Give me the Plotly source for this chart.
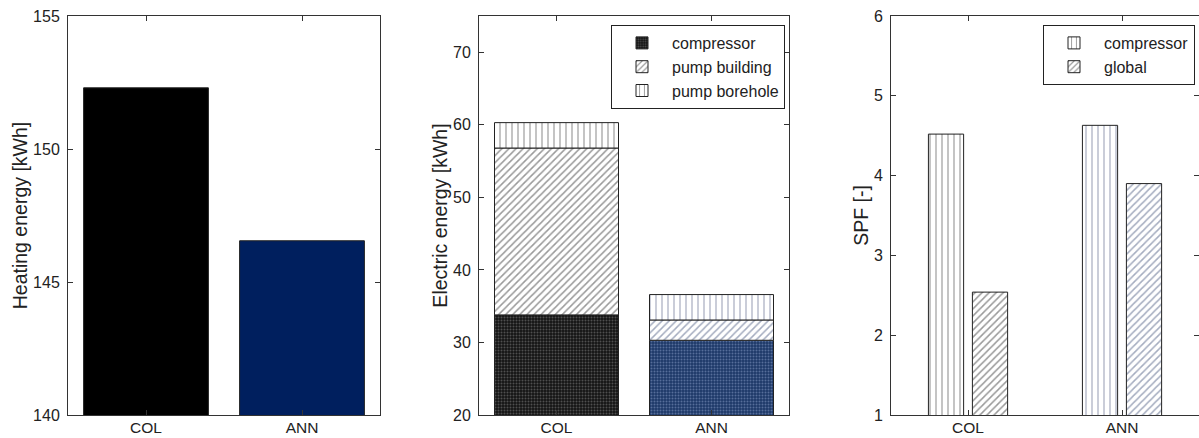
import plotly.graph_objects as go

# ---------------- data ----------------
categories = ["COL", "ANN"]
x_pos = [1, 2]

heating_energy = [152.3, 146.55]          # kWh

elec_compressor = [33.8, 30.3]            # kWh
elec_pump_building = [23.0, 2.8]          # kWh
elec_pump_borehole = [3.5, 3.5]           # kWh

spf_compressor = [4.52, 4.63]
spf_global = [2.54, 3.90]

heating_ticks = [140, 145, 150, 155]
elec_ticks = [20, 30, 40, 50, 60, 70]
spf_ticks = [1, 2, 3, 4, 5, 6]

# ---------------- layout helpers ----------------
W, H = 1199, 438
FONT = "Liberation Sans, Arial, Helvetica, sans-serif"
AX = "#333333"
TXT = "#222222"

base_building = [c for c in elec_compressor]
base_borehole = [c + b for c, b in zip(elec_compressor, elec_pump_building)]

fig = go.Figure()

# Plot 1: heating energy
fig.add_trace(go.Bar(
    x=x_pos, y=heating_energy, width=0.8,
    marker=dict(color=["#000000", "#001f5e"], line=dict(color="#222222", width=1)),
    showlegend=False, xaxis="x", yaxis="y",
))

# Plot 2: electric energy (stacked)
fig.add_trace(go.Bar(
    x=x_pos, y=elec_compressor, width=0.8, name="compressor",
    marker=dict(color="#1a1a1a", line=dict(color="#222222", width=1),
                pattern=dict(shape=".", bgcolor=["#141414", "#1d3868"],
                             fgcolor=["#8a8a8a", "#8fa4cc"], size=3, solidity=0.35)),
    xaxis="x2", yaxis="y2", legend="legend",
))
fig.add_trace(go.Bar(
    x=x_pos, y=elec_pump_building, base=base_building, width=0.8, name="pump building",
    marker=dict(color="white", line=dict(color="#222222", width=1),
                pattern=dict(shape="/", bgcolor="white",
                             fgcolor=["#333333", "#4a5a80"], size=5, solidity=0.3)),
    xaxis="x2", yaxis="y2", legend="legend",
))
fig.add_trace(go.Bar(
    x=x_pos, y=elec_pump_borehole, base=base_borehole, width=0.8, name="pump borehole",
    marker=dict(color="white", line=dict(color="#222222", width=1),
                pattern=dict(shape="|", bgcolor="white",
                             fgcolor=["#222222", "#3a4670"], size=6, solidity=0.18)),
    xaxis="x2", yaxis="y2", legend="legend",
))

# Plot 3: SPF (grouped)
fig.add_trace(go.Bar(
    x=x_pos, y=spf_compressor, width=0.2286, offset=-0.2571, name="compressor",
    marker=dict(color="white", line=dict(color="#222222", width=1),
                pattern=dict(shape="|", bgcolor="white",
                             fgcolor=["#222222", "#3a4670"], size=6, solidity=0.18)),
    xaxis="x3", yaxis="y3", legend="legend2",
))
fig.add_trace(go.Bar(
    x=x_pos, y=spf_global, width=0.2286, offset=0.0286, name="global",
    marker=dict(color="white", line=dict(color="#222222", width=1),
                pattern=dict(shape="/", bgcolor="white",
                             fgcolor=["#333333", "#4a5a80"], size=5, solidity=0.3)),
    xaxis="x3", yaxis="y3", legend="legend2",
))


def xax(domain, anchor):
    return dict(domain=domain, anchor=anchor, range=[0.5, 2.5], tickvals=x_pos,
                ticktext=categories, ticks="inside", ticklen=5, tickcolor=AX,
                showline=True, linecolor=AX, linewidth=1, mirror="ticks",
                showgrid=False, zeroline=False, automargin=False,
                ticklabelstandoff=-2, tickfont=dict(size=15.5, color=TXT))


def yax(anchor, rng, ticks, title, standoff):
    return dict(anchor=anchor, domain=[0, 1], range=rng, tickvals=ticks,
                ticks="inside", ticklen=5, tickcolor=AX, showline=True, linecolor=AX,
                linewidth=1, mirror="ticks", showgrid=False, zeroline=False,
                automargin=False, ticklabelstandoff=4,
                tickfont=dict(size=16, color=TXT),
                title=dict(text=title, standoff=standoff,
                           font=dict(size=19.5, color=TXT)))


def leg(x):
    return dict(x=x, y=(415 - 25) / 399, xanchor="left", yanchor="top",
                bgcolor="white", bordercolor="#222222", borderwidth=1,
                font=dict(size=16, color=TXT), tracegroupgap=0, itemwidth=50,
                itemclick=False, itemdoubleclick=False)


fig.update_layout(
    width=W, height=H,
    margin=dict(l=0, r=0, t=16, b=23, pad=0),
    paper_bgcolor="white", plot_bgcolor="white",
    font=dict(family=FONT, size=16, color=TXT),
    barmode="overlay",
    xaxis=xax([68 / W, 380 / W], "y"),
    yaxis=yax("x", [140, 155], heating_ticks, "Heating energy [kWh]", 0),
    xaxis2=xax([479 / W, 789 / W], "y2"),
    yaxis2=yax("x2", [20, 75], elec_ticks, "Electric energy [kWh]", 0),
    xaxis3=xax([891 / W, 1.0], "y3"),
    yaxis3=yax("x3", [1, 6], spf_ticks, "SPF [-]", 0),
    legend=leg(611 / W),
    legend2=leg(1043 / W),
)

fig.write_html("out.html")
